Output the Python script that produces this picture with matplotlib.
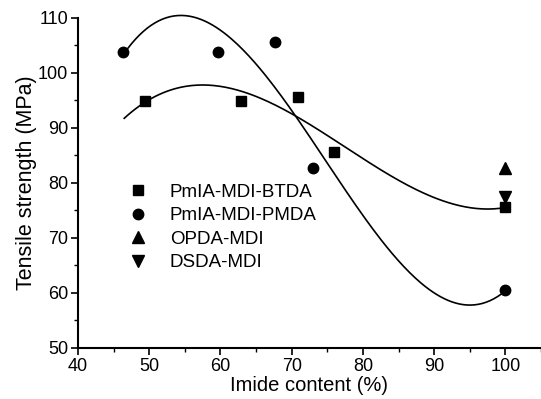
import numpy as np
import matplotlib.pyplot as plt
from matplotlib.ticker import MultipleLocator

plt.rcParams['font.family'] = ['Liberation Sans', 'DejaVu Sans']

btda_x = [49.4, 62.9, 70.9, 76.0, 100.0]
btda_y = [94.9, 94.9, 95.6, 85.6, 75.6]
pmda_x = [46.3, 59.7, 67.7, 73.0, 100.0]
pmda_y = [103.8, 103.8, 105.6, 82.7, 60.5]
opda_x = [100.0]
opda_y = [82.7]
dsda_x = [100.0]
dsda_y = [77.5]

fig = plt.figure(figsize=(5.41, 3.99), dpi=100)
ax = fig.add_axes([0.144, 0.128, 0.856, 0.827])

# cubic fits through each series
xs = np.linspace(46.5, 100, 200)
p1 = np.polyfit(btda_x, btda_y, 3)
p2 = np.polyfit(pmda_x, pmda_y, 3)
ax.plot(xs, np.polyval(p1, xs), 'k-', lw=1.2)
ax.plot(xs, np.polyval(p2, xs), 'k-', lw=1.2, clip_on=False)

ax.plot(btda_x, btda_y, 'ks', ms=6.5, ls='none', label='PmIA-MDI-BTDA')
ax.plot(pmda_x, pmda_y, 'ko', ms=7.5, ls='none', label='PmIA-MDI-PMDA')
ax.plot(opda_x, opda_y, 'k^', ms=8, ls='none', label='OPDA-MDI')
ax.plot(dsda_x, dsda_y, 'kv', ms=8, ls='none', label='DSDA-MDI')

ax.set_xlim(40, 105)
ax.set_ylim(50, 110)
ax.set_xticks([40, 50, 60, 70, 80, 90, 100])
ax.xaxis.set_minor_locator(MultipleLocator(5))
ax.yaxis.set_major_locator(MultipleLocator(10))
ax.yaxis.set_minor_locator(MultipleLocator(5))
ax.tick_params(which='major', direction='out', length=5, width=1.2, labelsize=13, pad=2)
ax.tick_params(which='minor', direction='out', length=3, width=1.0)

for s in ['top', 'right']:
    ax.spines[s].set_visible(False)
for s in ['left', 'bottom']:
    ax.spines[s].set_linewidth(1.5)

ax.set_xlabel('Imide content (%)', fontsize=14.5, labelpad=1)
ax.set_ylabel('Tensile strength (MPa)', fontsize=15.5, labelpad=1)

ax.legend(loc='upper left', bbox_to_anchor=(0.109, 0.498), frameon=False,
          fontsize=13.5, handlelength=1.0, handletextpad=1.2, labelspacing=0.34,
          borderpad=0, borderaxespad=0)

fig.savefig('out.png', dpi=100)
